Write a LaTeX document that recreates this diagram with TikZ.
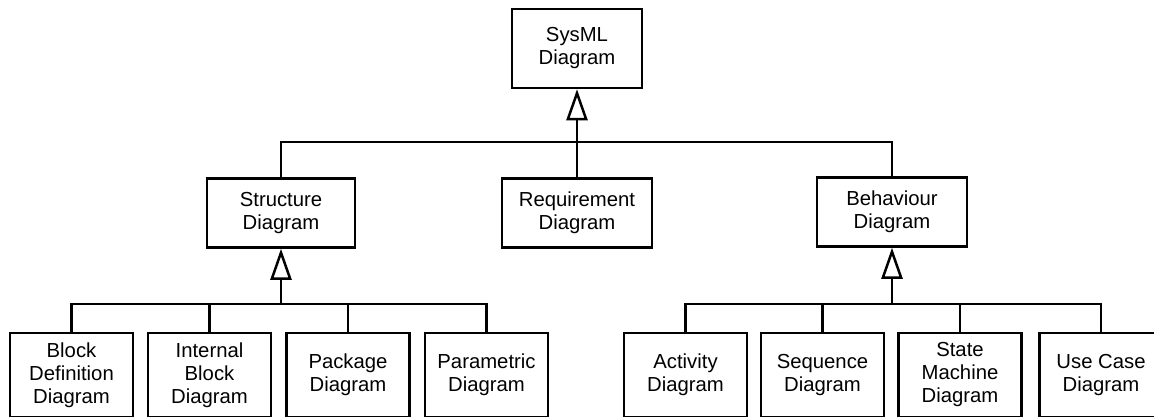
\documentclass[tikz,border=0pt]{standalone}
\usepackage{fontspec}
\setmainfont{Liberation Sans}
\usetikzlibrary{arrows.meta, positioning}

\tikzset{
  diagbox/.style={draw, line width=2.5pt, align=center, inner sep=0pt,
    minimum width=150pt, minimum height=69pt,
    font=\fontsize{20.3}{23}\selectfont},
  leafbox/.style={diagbox, minimum width=123pt, minimum height=84pt},
  wire/.style={line width=2.5pt},
  gen/.style={wire, -{Triangle[open, length=31pt, width=21pt]}}
}

\begin{document}
\begin{tikzpicture}[x=1pt, y=-1pt]
% page
\useasboundingbox (0,0) rectangle (1154,416);
\fill[white] (0,0) rectangle (1154,416);
\clip (0,0) rectangle (1154,416);

% ---- root ----
\node[diagbox, minimum width=130pt, minimum height=79pt] (sysml) at (577,48.5) {SysML\\Diagram};

% ---- second level ----
\node[diagbox, minimum width=148pt] (struct) at (281,213) {Structure\\Diagram};
\node[diagbox] (req)   at (577,213) {Requirement\\Diagram};
\node[diagbox] (behav) at (892,212) {Behaviour\\Diagram};

% ---- structure leaves ----
\node[leafbox] (bdd) at (71.5,375)  {Block\\Definition\\Diagram};
\node[leafbox] (ibd) at (209.5,375) {Internal\\Block\\Diagram};
\node[leafbox] (pkg) at (348,375)   {Package\\Diagram};
\node[leafbox] (par) at (486.5,375) {Parametric\\Diagram};

% ---- behaviour leaves ----
\node[leafbox] (act) at (685.5,375) {Activity\\Diagram};
\node[leafbox] (seq) at (822.5,375) {Sequence\\Diagram};
\node[leafbox] (stm) at (960,375)   {State\\Machine\\Diagram};
\node[leafbox] (uc)  at (1101,375)  {Use Case\\Diagram};

% junctions on the bars
\coordinate (sysjoin)    at (577,142);
\coordinate (structjoin) at (struct.center |- 0,304);
\coordinate (behavjoin)  at (behav.center |- 0,304);

% generalisation arrows
\draw[gen] (sysjoin) -- (sysml);
\draw[gen] (structjoin) -- (struct);
\draw[gen] (behavjoin) -- (behav);

% top bar
\draw[wire] (struct.north) |- (sysjoin);
\draw[wire] (behav.north) |- (sysjoin);
\draw[wire] (req.north) -- (sysjoin);

% lower bars
\foreach \leaf in {bdd, ibd, pkg, par}
  \draw[wire] (\leaf.north) |- (structjoin);
\foreach \leaf in {act, seq, stm, uc}
  \draw[wire] (\leaf.north) |- (behavjoin);
\end{tikzpicture}
\end{document}
